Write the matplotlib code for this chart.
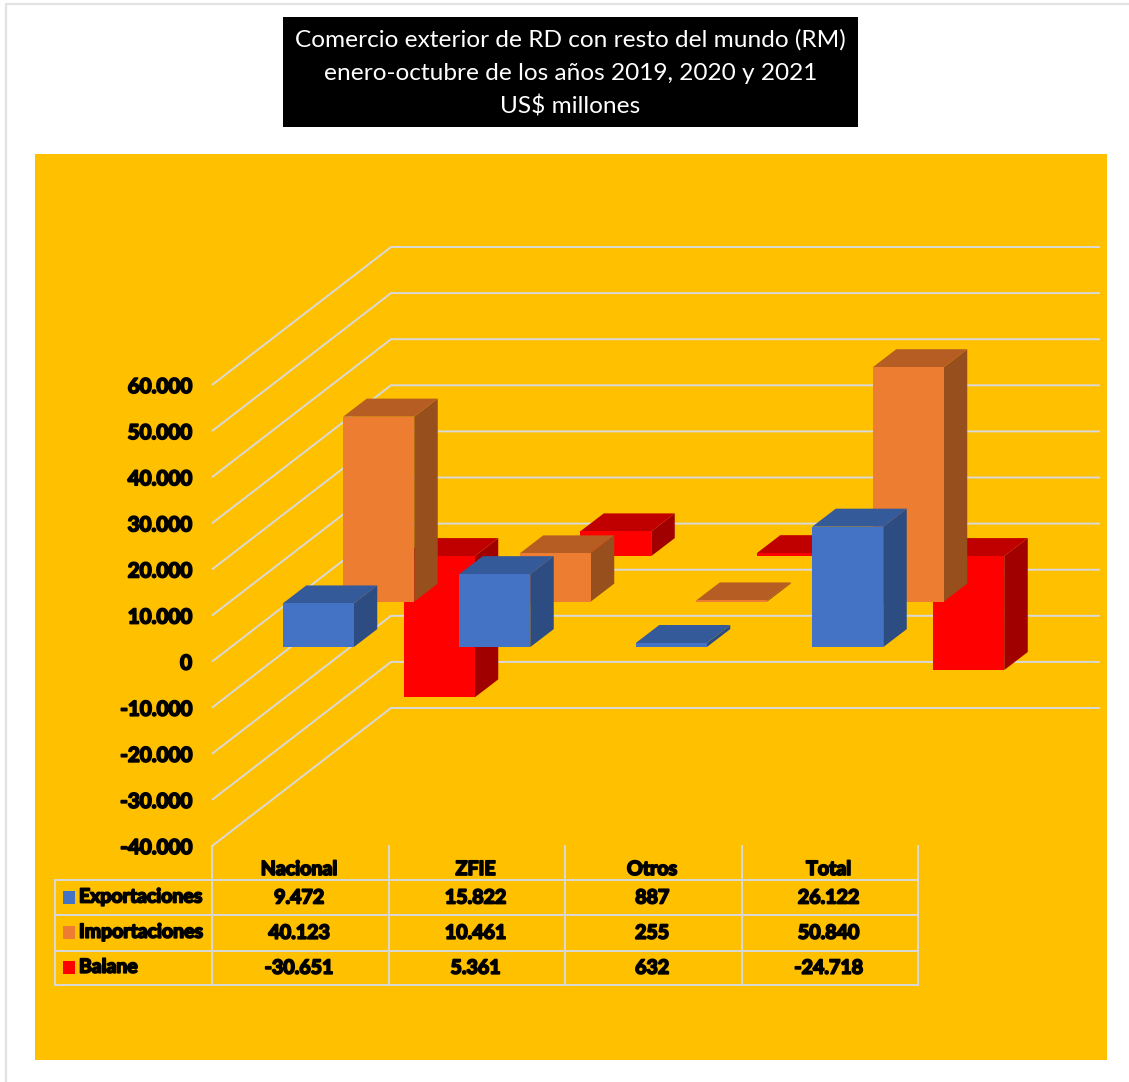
import matplotlib
matplotlib.use("Agg")
import matplotlib.pyplot as plt
import matplotlib.patheffects as pe
from matplotlib.patches import Polygon, Rectangle

# data
categories = ["Nacional", "ZFIE", "Otros", "Total"]
series_names = ["Exportaciones", "Importaciones", "Balane"]
exportaciones = [9472, 15822, 887, 26122]
importaciones = [40123, 10461, 255, 50840]
balance = [-30651, 5361, 632, -24718]
tick_values = [60000, 50000, 40000, 30000, 20000, 10000, 0, -10000, -20000, -30000, -40000]
title_lines = ["Comercio exterior de RD con resto del mundo (RM)",
               "enero-octubre de los años 2019, 2020 y 2021",
               "US$ millones"]

W, H = 1129, 1082
# scale of the chart, in pixels
X0, COL_W = 212.0, 176.5
Y0, PX_PER_UNIT = 661.6, 0.00461
BAR_W = 71 / COL_W

GRID = "#D9D9D9"
GRID_LW = 1.4
colors = [("#4472C4", "#355A9A", "#2D4C82"),
          ("#ED7D31", "#B55D22", "#97501D"),
          ("#FF0000", "#C00000", "#A00000")]


def fmt(v):
    return f"{v:,}".replace(",", ".")


def shift(x, v, dx_px, dy_px):
    # move a chart point back in depth by a pixel offset
    return (x + dx_px / COL_W, v + dy_px / PX_PER_UNIT)


def bold_text(ax, x, y, s, ha="center", size=14.1):
    ax.text(x, y, s, ha=ha, va="center_baseline", fontsize=size, fontweight="bold", color="black",
            family="Lato", path_effects=[pe.withStroke(linewidth=1.3, foreground="black")], zorder=10)


fig = plt.figure(figsize=(W / 100, H / 100), dpi=100, facecolor="white")

# page layer, in pixels: frame, title box, panel, table
page = fig.add_axes([0, 0, 1, 1])
page.set_xlim(0, W)
page.set_ylim(H, 0)
page.axis("off")
page.plot([5.5, 5.5, W], [H, 3.5, 3.5], color="#E2E2E2", lw=1.6)
page.add_patch(Rectangle((35, 154), 1072, 906, fc="#FFC000", ec="none"))
page.add_patch(Rectangle((283, 17), 575, 110, fc="black", ec="none"))
for y, line in zip([40, 73, 106], title_lines):
    page.text(570.5, y, line, color="white", ha="center", va="center", fontsize=17.6, family="Lato")

# table
col_x = [X0 + COL_W * i for i in range(len(categories) + 1)]
row_y = [880, 915, 950.5, 985]
for y in row_y:
    page.plot([55, col_x[-1]], [y, y], color=GRID, lw=GRID_LW, zorder=3)
page.plot([55, 55], [row_y[0], row_y[-1]], color=GRID, lw=GRID_LW, zorder=3)
for x in col_x:
    page.plot([x, x], [846, row_y[-1]], color=GRID, lw=GRID_LW, zorder=3)
for i, cat in enumerate(categories):
    bold_text(page, col_x[i] + COL_W / 2 - 1, 867, cat)
for r, (name, vals) in enumerate(zip(series_names, [exportaciones, importaciones, balance])):
    yc = (row_y[r] + row_y[r + 1]) / 2
    page.add_patch(Rectangle((62.5, yc - 6.5), 12.5, 12.5, fc=colors[r][0], ec="none", zorder=4))
    bold_text(page, 79, yc - 2, name, ha="left", size=14)
    for i, v in enumerate(vals):
        bold_text(page, col_x[i] + COL_W / 2 - 1, yc - 2, fmt(v))

# chart layer: x in category columns, y in US$ millions
ax = fig.add_axes([0, 0, 1, 1])
ax.patch.set_alpha(0)
ax.set_xlim((0 - X0) / COL_W, (W - X0) / COL_W)
ax.set_ylim((Y0 - H) / PX_PER_UNIT, Y0 / PX_PER_UNIT)
ax.axis("off")

WALL_DX, WALL_DY = 179, 138
right_x = (1100 - X0) / COL_W
for v in tick_values:
    bx, by = shift(0, v, WALL_DX, WALL_DY)
    ax.plot([0, bx, right_x], [v, by, by], color=GRID, lw=GRID_LW, zorder=1,
            solid_joinstyle="miter", solid_capstyle="butt")
    bold_text(ax, (192 - X0) / COL_W, v, fmt(v), ha="right", size=14.8)

FIRST_DX, FIRST_DY = 18, 14.5
STEP_DX, STEP_DY = 60.5, 45.5
BAR_DX, BAR_DY = 23.5, 18


def bar3d(cat, value, k, zorder):
    front, top, side = colors[k]
    dx = FIRST_DX + STEP_DX * k
    dy = FIRST_DY + STEP_DY * k
    left, base = shift(cat + 0.5 - BAR_W / 2, 0, dx, dy)
    right = left + BAR_W
    end = base + value
    high = max(base, end)
    # side and top first, front face last
    pts_side = [(right, base), (right, end), shift(right, end, BAR_DX, BAR_DY), shift(right, base, BAR_DX, BAR_DY)]
    pts_top = [(left, high), (right, high), shift(right, high, BAR_DX, BAR_DY), shift(left, high, BAR_DX, BAR_DY)]
    pts_front = [(left, base), (right, base), (right, end), (left, end)]
    for pts, c in [(pts_side, side), (pts_top, top), (pts_front, front)]:
        ax.add_patch(Polygon(pts, closed=True, fc=c, ec="none", zorder=zorder))


# back series first so the nearer ones cover them
for k, vals in reversed(list(enumerate([exportaciones, importaciones, balance]))):
    for i, v in enumerate(vals):
        bar3d(i, v, k, zorder=5 + (2 - k))

fig.savefig("out.png", dpi=100)
